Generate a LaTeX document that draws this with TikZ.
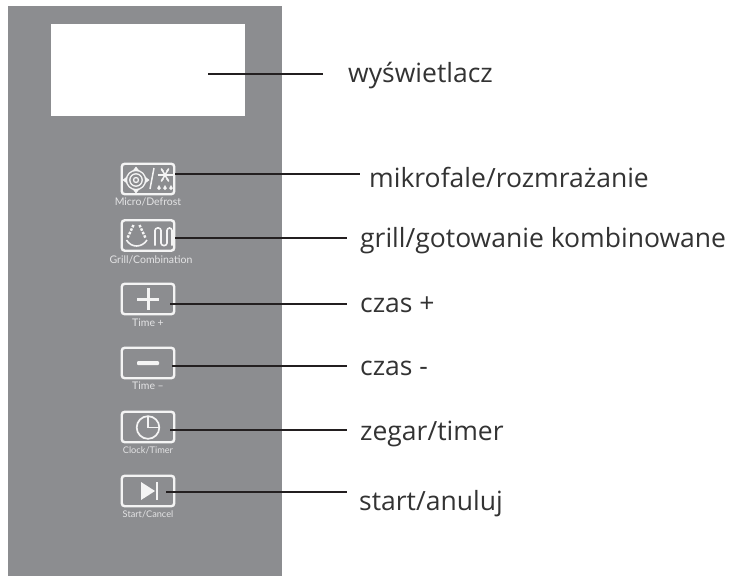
\documentclass[tikz,border=0pt]{standalone}
\usepackage{fontspec}
\setmainfont{Open Sans}
\newfontfamily\capfont{Lato}
\definecolor{panelgray}{HTML}{8C8D90}
\definecolor{leadline}{HTML}{231F20}
\definecolor{labeltext}{HTML}{333333}
\definecolor{softwhite}{HTML}{F4F4F4}
\tikzset{
  x=1pt,y=-1pt,
  btn/.style={draw=softwhite,line width=2.4pt,rounded corners=3pt,minimum width=52.5pt,minimum height=30.5pt,inner sep=0pt},
  lead/.style={draw=leadline,line width=1.1pt},
  lab/.style={anchor=base west,inner sep=0pt,font=\fontsize{26.5}{30}\selectfont,text=labeltext},
  captext/.style={inner sep=0pt,font=\capfont\fontsize{10.5}{12}\selectfont,text=softwhite!85!panelgray},
  captextsmall/.style={inner sep=0pt,font=\capfont\fontsize{9.2}{11}\selectfont,text=softwhite!85!panelgray}
}
\begin{document}
\begin{tikzpicture}
\useasboundingbox (0,0) rectangle (729,576);
\fill[white] (0,0) rectangle (729,576);
\fill[panelgray] (8,6) rectangle (282,576);
\node[fill=white,minimum width=194pt,minimum height=92pt,inner sep=0pt] (disp) at (148,70) {};
% buttons
\node[btn] (b1) at (148,179) {};
\node[btn] (b2) at (148,235.5) {};
\node[btn] (b3) at (148,299) {};
\node[btn] (b4) at (148,363) {};
\node[btn] (b5) at (148,427) {};
\node[btn] (b6) at (148,491) {};
% captions
\node[captext] (c1) at (148,202) {Micro/Defrost};
\node[captext] (c2) at (151,260) {Grill/Combination};
\node[captext] (c3) at (148,323) {Time +};
\node[captext] (c4) at (148,386) {Time –};
\node[captextsmall] (c5) at (148,450) {Clock/Timer};
\node[captextsmall] (c6) at (148,514) {Start/Cancel};
% icon 1: microwave + defrost
\foreach \r in {2.5,6.2,9.6}{\draw[softwhite,line width=1.3pt] (136,180) circle[radius=\r];}
\fill[softwhite] (136,166.5) -- (132.5,171) -- (139.5,171) -- cycle;
\fill[softwhite] (136,193.5) -- (132.5,189) -- (139.5,189) -- cycle;
\fill[softwhite] (122.5,180) -- (127,176.5) -- (127,183.5) -- cycle;
\fill[softwhite] (149.5,180) -- (145,176.5) -- (145,183.5) -- cycle;
\draw[softwhite,line width=1.5pt] (150,189) -- (154,168);
\foreach \a in {0,60,120}{\draw[softwhite,line width=1.5pt] (165,175) ++(\a:-7.5) -- ++(\a:15);}
\foreach \a in {-60,0,60,120,180,240}{\fill[softwhite] (165,175) ++(\a:5) circle[radius=1.2];}
\foreach \x in {159,165,171}{\fill[softwhite] (\x,185) -- (\x-1.9,188.3) arc[start angle=180,end angle=0,radius=1.9] -- cycle;}
% icon 2: grill + element
\draw[softwhite,line width=1.6pt] (126.5,240) .. controls (131,248) and (142,248) .. (147,240);
\draw[softwhite,line width=2.4pt,dash pattern=on 2.5pt off 1.3pt] (133.5,225) -- (127.5,238);
\draw[softwhite,line width=2.4pt,dash pattern=on 2.5pt off 1.3pt] (139.5,225) -- (145.5,238);
\draw[softwhite,line width=1.6pt,rounded corners=2.5pt] (155,245.5) -- (155,228) -- (161,228) -- (161,245.5) -- (167,245.5) -- (167,228) -- (172,228) -- (172,245.5);
% icon 3, 4
\fill[softwhite] (137,297.5) rectangle (159,300.5);
\fill[softwhite] (146.5,288) rectangle (149.5,310);
\fill[softwhite,rounded corners=1pt] (137,361) rectangle (159,365);
% icon 5
\draw[softwhite,line width=1.7pt] (148,427.5) circle[radius=11.3];
\draw[softwhite,line width=1.7pt] (148,416.2) -- (148,427.5) -- (159.3,427.5);
% icon 6
\fill[softwhite] (141,482) -- (155,491) -- (141,500) -- cycle;
\fill[softwhite] (155.5,482) rectangle (158,500);
% connector ends
\coordinate (s0) at (208,74);
\coordinate (e0) at (323,74);
\coordinate (s1) at (175,174);
\coordinate (e1) at (360,174);
\coordinate (s2) at (175,238);
\coordinate (e2) at (347,238);
\coordinate (s3) at (170,304);
\coordinate (e3) at (347,304);
\coordinate (s4) at (172,366);
\coordinate (e4) at (347,366);
\coordinate (s5) at (170,430);
\coordinate (e5) at (347,430);
\coordinate (s6) at (166,492);
\coordinate (e6) at (347,492);
\foreach \i in {0,...,6}{\draw[lead] (s\i) -- (e\i);}
% labels
\node[lab] (l0) at (348,82.5) {wyświetlacz};
\node[lab] (l1) at (369,187) {mikrofale/rozmrażanie};
\node[lab] (l2) at (360,247) {grill/gotowanie kombinowane};
\node[lab] (l3) at (360,312) {czas +};
\node[lab] (l4) at (360,375.5) {czas -};
\node[lab] (l5) at (360,440) {zegar/timer};
\node[lab] (l6) at (359,510) {start/anuluj};
\end{tikzpicture}
\end{document}
